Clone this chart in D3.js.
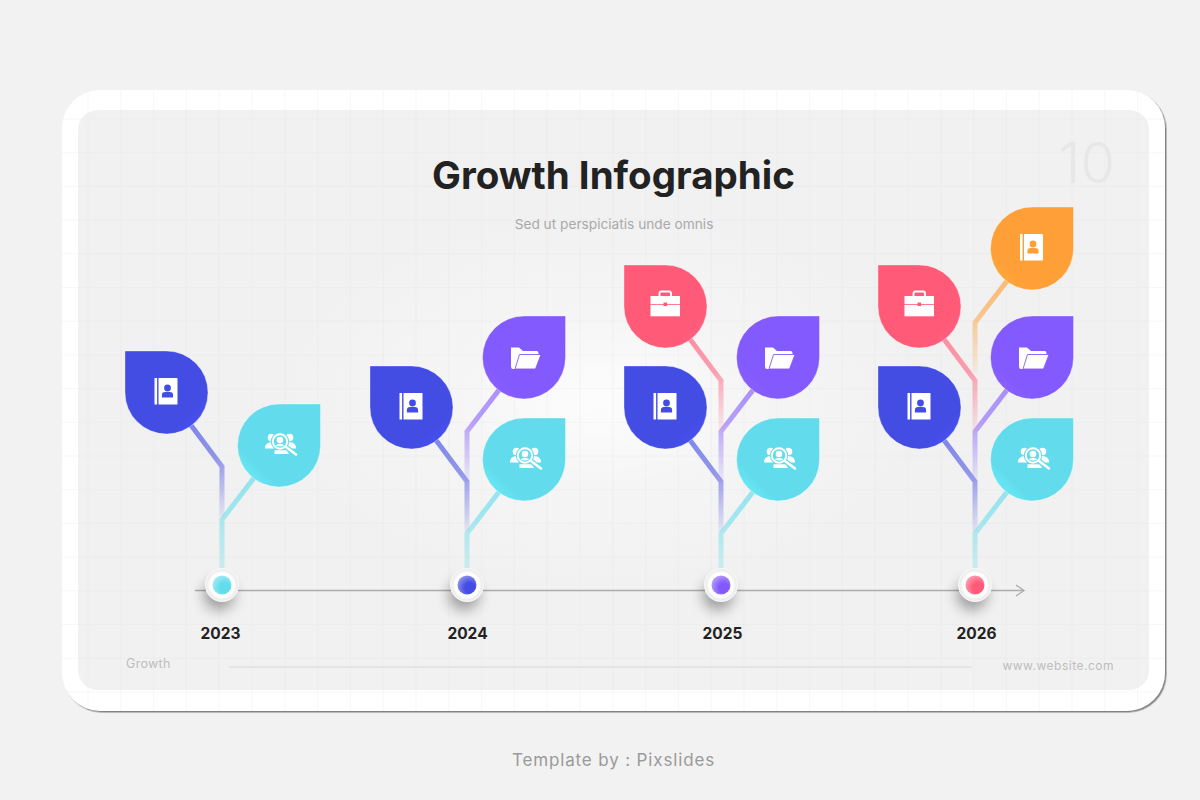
<!DOCTYPE html>
<html>
<head>
<meta charset="utf-8">
<style>
  html, body { margin: 0; padding: 0; background: #f2f2f2; }
  svg { display: block; }
  text { font-family: Inter, "Open Sans", sans-serif; }
</style>
<script src="https://cdn.jsdelivr.net/npm/d3@7"></script>
</head>
<body>
<div id="chart"></div>
<script>
// Chart data: leaf heights above the time line, one list per year, in category order
const years = [2023, 2024, 2025, 2026];
const categories = ['contacts', 'search', 'folder', 'briefcase', 'notebook'];
const heights2023 = [198, 145, null, null, null];
const heights2024 = [183, 131, 233, null, null];
const heights2025 = [183, 131, 233, 284, null];
const heights2026 = [183, 131, 233, 284, 342];
const nodeColors = ['#62dcec', '#434ce3', '#835afd', '#ff5a78'];
const categoryColors = ['#434ce3', '#62dcec', '#835afd', '#ff5a78', '#ff9f38'];
const categorySides = ['left', 'right', 'right', 'left', 'right'];
const categoryIcons = ['book', 'search', 'folder', 'briefcase', 'book'];

const allHeights = [heights2023, heights2024, heights2025, heights2026];

const width = 1200, height = 800;
const axisY = 590.5;
const leafR = 41.5;

const svg = d3.select('#chart').append('svg').attr('width', width).attr('height', height);
const defs = svg.append('defs');

const x = d3.scaleOrdinal().domain(years).range([222, 467, 721, 975]);
const labelX = d3.scaleOrdinal().domain(years).range([220.5, 467.5, 722.5, 976.5]);
const y = d3.scaleLinear().domain([0, 400]).range([axisY, axisY - 400]);
const color = d3.scaleOrdinal().domain(categories).range(categoryColors);

// Icons, drawn white around the leaf centre; bg is the leaf colour for cut-outs
const iconDrawers = {
    book(g, bg) {
        g.append('rect').attr('x', -12).attr('y', -14.5).attr('width', 2.6).attr('height', 26.5).attr('fill', '#fff');
        g.append('rect').attr('x', -8).attr('y', -14.5).attr('width', 19).attr('height', 26.5).attr('rx', 0.6).attr('fill', '#fff');
        g.append('circle').attr('cx', 1).attr('cy', -4.5).attr('r', 3.4).attr('fill', bg);
        g.append('path').attr('d', 'M-4.6,5 V2.6 Q-4.6,-0.4 -1.4,-0.4 H3.4 Q6.6,-0.4 6.6,2.6 V5 Z').attr('fill', bg);
    },
    search(g, bg) {
        // side figures
        g.append('circle').attr('cx', -7.5).attr('cy', -8).attr('r', 3.8).attr('fill', '#fff');
        g.append('circle').attr('cx', 10.5).attr('cy', -8).attr('r', 3.8).attr('fill', '#fff');
        g.append('path').attr('d', 'M-14,3 Q-14,-3.5 -7,-3.5 L-5,-3.5 L-5,3 Z').attr('fill', '#fff');
        g.append('path').attr('d', 'M17,3 Q17,-3.5 10,-3.5 L7,-3.5 L7,3 Z').attr('fill', '#fff');
        // lens with figure inside
        g.append('circle').attr('cx', 1).attr('cy', -4).attr('r', 9.2).attr('fill', bg);
        g.append('circle').attr('cx', 1).attr('cy', -4).attr('r', 7.2).attr('fill', 'none').attr('stroke', '#fff').attr('stroke-width', 2);
        g.append('circle').attr('cx', 1).attr('cy', -5.5).attr('r', 3.3).attr('fill', '#fff');
        g.append('path').attr('d', 'M-3.5,-0.2 Q1,-3.2 5.5,-0.2 Q1,2.4 -3.5,-0.2 Z').attr('fill', '#fff');
        // body below the lens and handle
        g.append('path').attr('d', 'M-4.5,8.5 V4.8 H8 L10,8.5 Z').attr('fill', '#fff');
        g.append('line').attr('x1', 7).attr('y1', 1.5).attr('x2', 16).attr('y2', 8.5)
            .attr('stroke', bg).attr('stroke-width', 5);
        g.append('line').attr('x1', 7).attr('y1', 1.5).attr('x2', 17).attr('y2', 9)
            .attr('stroke', '#fff').attr('stroke-width', 2.5).attr('stroke-linecap', 'round');
    },
    folder(g, bg) {
        g.append('path').attr('d', 'M-13,-10 H-5 L-1,-6.5 H13 Q14.5,-6.5 14.5,-4 V-2 H-3 L-8,11.5 H-11 Q-13,11.5 -13,9 Z').attr('fill', '#fff');
        g.append('path').attr('d', 'M-4.5,-3 H17 L11.5,11.5 H-9 Z').attr('fill', '#fff').attr('stroke', bg).attr('stroke-width', 0.9);
    },
    briefcase(g, bg) {
        g.append('path').attr('d', 'M-6,-9 V-13 Q-6,-15 -4,-15 H3.5 Q5.5,-15 5.5,-13 V-9')
            .attr('fill', 'none').attr('stroke', '#fff').attr('stroke-width', 1.9);
        g.append('rect').attr('x', -15).attr('y', -10.5).attr('width', 29.5).attr('height', 8).attr('fill', '#fff');
        g.append('rect').attr('x', -15).attr('y', -1.7).attr('width', 29.5).attr('height', 11.5).attr('fill', '#fff');
        g.append('rect').attr('x', -2).attr('y', -4).attr('width', 3.6).attr('height', 3.6).attr('fill', bg);
    }
};

// Card shadow + blur filters
const cardShadow = defs.append('filter').attr('id', 'cardShadow')
    .attr('x', '-5%').attr('y', '-5%').attr('width', '110%').attr('height', '110%');
cardShadow.append('feDropShadow').attr('dx', 1.5).attr('dy', 1.5).attr('stdDeviation', 0.7)
    .attr('flood-color', '#777').attr('flood-opacity', 0.9);

const blur = defs.append('filter').attr('id', 'nodeBlur')
    .attr('x', '-100%').attr('y', '-100%').attr('width', '300%').attr('height', '300%');
blur.append('feGaussianBlur').attr('stdDeviation', 7);

const glow = defs.append('radialGradient').attr('id', 'glow');
glow.append('stop').attr('offset', '0%').attr('stop-color', '#fff').attr('stop-opacity', 0.85);
glow.append('stop').attr('offset', '45%').attr('stop-color', '#fff').attr('stop-opacity', 0.3);
glow.append('stop').attr('offset', '100%').attr('stop-color', '#fff').attr('stop-opacity', 0);

const nodeRim = defs.append('radialGradient').attr('id', 'nodeRim');
nodeRim.append('stop').attr('offset', '70%').attr('stop-color', '#fff');
nodeRim.append('stop').attr('offset', '88%').attr('stop-color', '#ececec');
nodeRim.append('stop').attr('offset', '100%').attr('stop-color', '#fafafa');

// Card
svg.append('rect').attr('x', 62).attr('y', 90).attr('width', 1103).attr('height', 621)
    .attr('rx', 38).attr('fill', '#fff').attr('filter', 'url(#cardShadow)');
svg.append('rect').attr('x', 78).attr('y', 110).attr('width', 1071).attr('height', 580)
    .attr('rx', 20).attr('fill', '#f1f1f1');
svg.append('ellipse').attr('cx', 600).attr('cy', 400).attr('rx', 330).attr('ry', 190)
    .attr('fill', 'url(#glow)');

// Faint background grid, clipped to the card
defs.append('clipPath').attr('id', 'cardClip').append('rect')
    .attr('x', 62).attr('y', 90).attr('width', 1103).attr('height', 621).attr('rx', 38);
const grid = svg.append('g').attr('clip-path', 'url(#cardClip)')
    .attr('stroke', '#e6e6e6').attr('stroke-opacity', 0.3).attr('stroke-width', 1);
grid.selectAll('line.v').data(d3.range(88 - 32.8, 1170, 32.8)).join('line').attr('class', 'v')
    .attr('x1', d => d).attr('x2', d => d).attr('y1', 90).attr('y2', 711);
grid.selectAll('line.h').data(d3.range(119, 711, 33.7)).join('line').attr('class', 'h')
    .attr('y1', d => d).attr('y2', d => d).attr('x1', 62).attr('x2', 1165);

// Headings
svg.append('text').attr('x', 613.5).attr('y', 189).attr('text-anchor', 'middle')
    .attr('font-size', 38.5).attr('font-weight', 700).attr('fill', '#222').text('Growth Infographic');
svg.append('text').attr('x', 614).attr('y', 229).attr('text-anchor', 'middle')
    .attr('font-size', 13.7).attr('fill', '#a9a9a9').text('Sed ut perspiciatis unde omnis');
svg.append('text').attr('x', 1115).attr('y', 183).attr('text-anchor', 'end')
    .attr('font-size', 56).attr('font-weight', 300).attr('fill', '#e7e7e7').text('10');

// Time line with arrow
svg.append('line').attr('x1', 195).attr('x2', 1023).attr('y1', axisY).attr('y2', axisY)
    .attr('stroke', '#adadad').attr('stroke-width', 1.4);
svg.append('path').attr('d', `M1016,${axisY - 5.5}L1024,${axisY}L1016,${axisY + 5.5}`)
    .attr('fill', 'none').attr('stroke', '#adadad').attr('stroke-width', 1.4);

// Flat table of leaves built from the arrays above
const leaves = [];
years.forEach((year, i) => {
    allHeights[i].forEach((h, j) => {
        if (h !== null) leaves.push({ year, category: categories[j], value: h, side: categorySides[j], icon: categoryIcons[j] });
    });
});

function leafCentre(d) {
    return { cx: x(d.year) + (d.side === 'left' ? -55.5 : 57), cy: y(d.value) };
}

// Leaf shape: a circle with one square corner
function leafPath(d) {
    const { cx, cy } = leafCentre(d);
    const p = d3.path();
    if (d.side === 'left') {
        p.moveTo(cx - leafR, cy - leafR);
        p.lineTo(cx, cy - leafR);
        p.arc(cx, cy, leafR, -Math.PI / 2, Math.PI, false);
    } else {
        p.moveTo(cx + leafR, cy - leafR);
        p.lineTo(cx + leafR, cy);
        p.arc(cx, cy, leafR, 0, -Math.PI / 2, false);
    }
    p.closePath();
    return p.toString();
}

// Stems: diagonal from the leaf, then down the year's trunk, fading out
const stems = svg.append('g');
leaves.forEach((d, i) => {
    const { cx, cy } = leafCentre(d);
    const sx = x(d.year);
    const bendY = cy + 74;
    const isLowest = d.category === 'search';
    const endY = isLowest ? 572 : bendY + 50;
    const gradId = `stem${i}`;
    const grad = defs.append('linearGradient').attr('id', gradId)
        .attr('gradientUnits', 'userSpaceOnUse')
        .attr('x1', cx).attr('y1', cy).attr('x2', sx).attr('y2', endY);
    const c = color(d.category);
    grad.append('stop').attr('offset', '0%').attr('stop-color', c).attr('stop-opacity', 0.75);
    grad.append('stop').attr('offset', '60%').attr('stop-color', c).attr('stop-opacity', 0.55);
    grad.append('stop').attr('offset', '100%').attr('stop-color', c).attr('stop-opacity', isLowest ? 0.25 : 0.08);
    stems.append('path')
        .attr('d', d3.line()([[cx, cy], [sx, bendY], [sx, endY]]))
        .attr('fill', 'none').attr('stroke', `url(#${gradId})`).attr('stroke-width', 5);
});

// Leaves
leaves.forEach((d, i) => {
    const c = color(d.category);
    const { cx, cy } = leafCentre(d);
    const grad = defs.append('linearGradient').attr('id', `leaf${i}`)
        .attr('x1', d.side === 'left' ? '45%' : '55%').attr('y1', '45%')
        .attr('x2', d.side === 'left' ? '100%' : '0%').attr('y2', '100%');
    grad.append('stop').attr('offset', '55%').attr('stop-color', c);
    grad.append('stop').attr('offset', '100%').attr('stop-color', d3.color(c).brighter(0.3));
    svg.append('path').attr('d', leafPath(d)).attr('fill', `url(#leaf${i})`)
        .attr('stroke', '#fff').attr('stroke-opacity', 0.35).attr('stroke-width', 1);
    const g = svg.append('g').attr('transform', `translate(${cx},${cy})`);
    iconDrawers[d.icon](g, c);
});

// Timeline nodes
const nodes = svg.append('g');
years.forEach((year, i) => {
    const nx = x(year), ny = axisY - 5.5;
    nodes.append('circle').attr('cx', nx - 3).attr('cy', ny + 10).attr('r', 15)
        .attr('fill', '#000').attr('opacity', 0.36).attr('filter', 'url(#nodeBlur)');
    nodes.append('circle').attr('cx', nx).attr('cy', ny).attr('r', 17).attr('fill', 'url(#nodeRim)');
    const grad = defs.append('radialGradient').attr('id', `node${i}`)
        .attr('cx', '65%').attr('cy', '65%').attr('r', '75%');
    grad.append('stop').attr('offset', '35%').attr('stop-color', nodeColors[i]);
    grad.append('stop').attr('offset', '100%').attr('stop-color', d3.interpolateRgb(nodeColors[i], '#fff')(0.45));
    nodes.append('circle').attr('cx', nx).attr('cy', ny).attr('r', 9.5).attr('fill', `url(#node${i})`);
});

// Year labels
svg.append('g').selectAll('text').data(years).join('text')
    .attr('x', d => labelX(d)).attr('y', 639).attr('text-anchor', 'middle')
    .attr('font-size', 15.5).attr('font-weight', 700).attr('fill', '#222').text(d => d);

// Footer
svg.append('text').attr('x', 126).attr('y', 668).attr('font-size', 12.5).attr('letter-spacing', 0.3).attr('fill', '#bdbdbd').text('Growth');
svg.append('line').attr('x1', 229).attr('x2', 972).attr('y1', 667).attr('y2', 667)
    .attr('stroke', '#d9d9d9').attr('stroke-width', 1);
svg.append('text').attr('x', 1114).attr('y', 670).attr('text-anchor', 'end')
    .attr('font-size', 12).attr('letter-spacing', 0.5).attr('fill', '#bdbdbd').text('www.website.com');
svg.append('text').attr('x', 613.5).attr('y', 766).attr('text-anchor', 'middle')
    .attr('font-size', 17).attr('letter-spacing', 0.85).attr('fill', '#9a9a9a').text('Template by : Pixslides');
</script>
</body>
</html>
